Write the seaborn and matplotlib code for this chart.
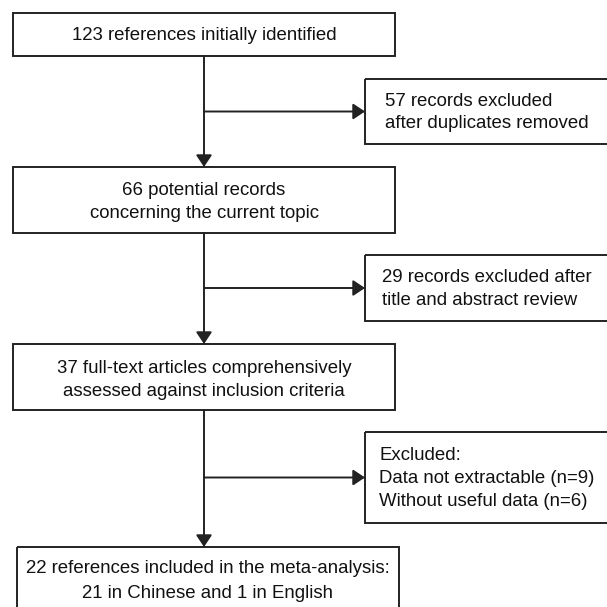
import matplotlib
matplotlib.use("Agg")
import matplotlib.pyplot as plt
import matplotlib.patches as patches
import seaborn as sns

# flow chart texts
main_steps = [
    "123 references initially identified",
    "66 potential records\nconcerning the current topic",
    "37 full-text articles comprehensively\nassessed against inclusion criteria",
    "22 references included in the meta-analysis:\n21 in Chinese and 1 in English",
]
excluded_steps = [
    "57 records excluded\nafter duplicates removed",
    "29 records excluded after\ntitle and abstract review",
    "Excluded:\nData not extractable (n=9)\nWithout useful data (n=6)",
]

# layout in pixels (x0, y0, x1, y1), y downwards
main_boxes = [(13, 13, 395, 56), (13, 167, 395, 233), (13, 344, 395, 410), (17, 547, 399, 625)]
side_boxes = [(365, 79, 625, 144), (365, 255, 625, 321), (365, 432, 625, 523)]
main_text_y = [35, 202, 380, 581]
main_spacing = [1.25, 1.4, 1.4, 1.6]
side_spacing = [1.45, 1.4, 1.5]
side_text_x = 487
trunk_x = 204

sns.set_theme(style="white")
plt.rcParams['font.family'] = ['Liberation Sans', 'DejaVu Sans']

line_col = "#222222"
lw = 1.4
fs = 13.4

fig = plt.figure(figsize=(6.07, 6.07), dpi=100)
ax = fig.add_axes([0, 0, 1, 1])
ax.set_xlim(0, 607)
ax.set_ylim(607, 0)
ax.axis('off')

def box(b):
    x0, y0, x1, y1 = b
    ax.add_patch(patches.Rectangle((x0, y0), x1 - x0, y1 - y0, fill=False,
                                   edgecolor=line_col, linewidth=lw, clip_on=True))

def arrow(x0, y0, x1, y1):
    ax.annotate("", xy=(x1, y1), xytext=(x0, y0),
                arrowprops=dict(arrowstyle="-|>,head_length=0.6,head_width=0.4",
                                mutation_scale=12, color=line_col, lw=lw,
                                shrinkA=0, shrinkB=0))

for b, txt, ty, ls in zip(main_boxes, main_steps, main_text_y, main_spacing):
    box(b)
    ax.text((b[0] + b[2]) / 2, ty, txt, ha='center', va='center',
            fontsize=fs, color='#111111', linespacing=ls)

for b, txt, ls in zip(side_boxes, excluded_steps, side_spacing):
    box(b)
    ax.text(side_text_x, (b[1] + b[3]) / 2 + 1, txt, ha='center', va='center',
            multialignment='left', fontsize=fs, color='#111111', linespacing=ls)

# vertical arrows between main boxes and branches to side boxes
for i in range(3):
    top = main_boxes[i][3]
    bottom = main_boxes[i + 1][1]
    arrow(trunk_x, top, trunk_x, bottom)
    sb = side_boxes[i]
    yb = (sb[1] + sb[3]) / 2
    arrow(trunk_x, yb, sb[0], yb)

fig.savefig("out.png", dpi=100)
